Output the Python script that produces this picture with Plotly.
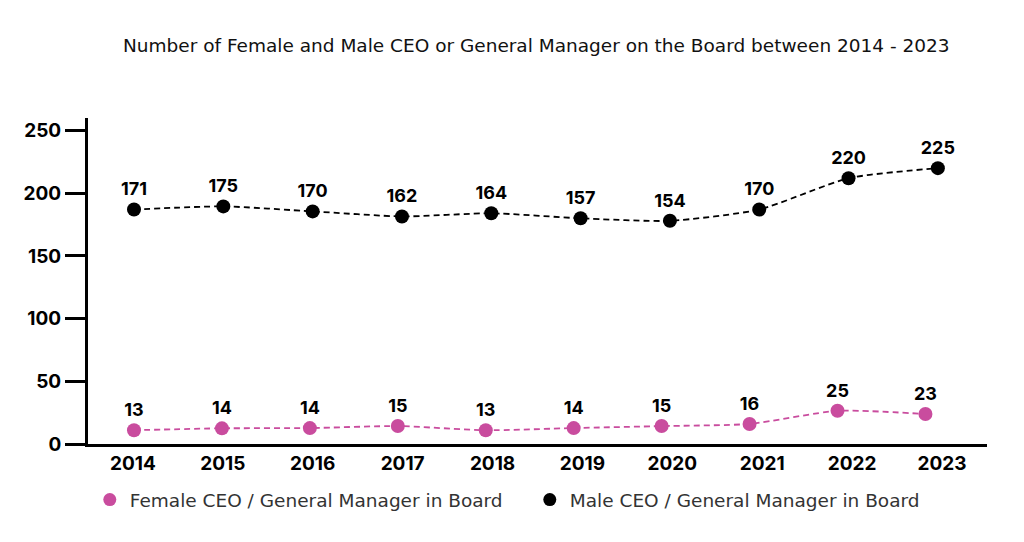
import plotly.graph_objects as go

years = [2014, 2015, 2016, 2017, 2018, 2019, 2020, 2021, 2022, 2023]

# where the dots sit on the y scale
female_pos = [11, 12.5, 12.7, 14.3, 11, 12.7, 14.3, 16, 26.5, 23.9]
male_pos = [187, 189.5, 185.5, 181.5, 184, 180, 178, 187, 212, 220]

# numbers printed above the dots
female_labels = [13, 14, 14, 15, 13, 14, 15, 16, 25, 23]
male_labels = [171, 175, 170, 162, 164, 157, 154, 170, 220, 225]

pink = "#C94C9E"
num_font = "Inter"
txt_font = "DejaVu Sans"

fig = go.Figure()

fig.add_trace(go.Scatter(
    x=years, y=male_pos, xaxis="x2",
    mode="lines+markers+text",
    line=dict(color="black", width=1.8, dash="6px,4px", shape="spline", smoothing=0.6),
    marker=dict(color="black", size=14),
    text=[str(v) for v in male_labels], textposition="top center",
    textfont=dict(family=num_font, size=18, color="black", weight="bold"),
    showlegend=False, cliponaxis=False,
))
fig.add_trace(go.Scatter(
    x=years, y=female_pos, xaxis="x3",
    mode="lines+markers+text",
    line=dict(color=pink, width=1.8, dash="6px,4px", shape="spline", smoothing=0.6),
    marker=dict(color=pink, size=14),
    text=[str(v) for v in female_labels], textposition="top center",
    textfont=dict(family=num_font, size=18, color="black", weight="bold"),
    showlegend=False, cliponaxis=False,
))

# legend entries (dot only)
fig.add_trace(go.Scatter(x=[None], y=[None], mode="markers", name="Female CEO / General Manager in Board",
                         marker=dict(color=pink, size=13)))
fig.add_trace(go.Scatter(x=[None], y=[None], mode="markers", name="Male CEO / General Manager in Board",
                         marker=dict(color="black", size=13)))

fig.update_layout(
    width=1016, height=534,
    margin=dict(l=80, r=37, t=110, b=98),
    paper_bgcolor="white", plot_bgcolor="white",
    font=dict(family=txt_font, color="black"),
    title=dict(text="Number of Female and Male CEO or General Manager on the Board between 2014 - 2023",
               x=0.52, xanchor="center", y=0.929, yanchor="middle",
               font=dict(family=txt_font, size=18.5, color="#111")),
    xaxis=dict(range=[2013.5, 2023.5], tickvals=years, ticktext=[str(y) for y in years],
               showline=True, linecolor="black", linewidth=3, showgrid=False, zeroline=False,
               ticks="", tickfont=dict(family=num_font, size=19, color="black", weight="bold")),
    xaxis2=dict(range=[2013.485, 2023.55], overlaying="x", visible=False),
    xaxis3=dict(range=[2013.477, 2023.70], overlaying="x", visible=False),
    yaxis=dict(range=[0, 260], tickvals=[0, 50, 100, 150, 200, 250],
               showline=True, linecolor="black", linewidth=3, showgrid=False, zeroline=False,
               ticks="outside", ticklen=20, tickwidth=3, tickcolor="black",
               tickfont=dict(family=num_font, size=19, color="black", weight="bold")),
    legend=dict(orientation="h", x=0.002, xanchor="left", y=-0.172, yanchor="middle",
                entrywidth=395, itemwidth=30,
                font=dict(family=txt_font, size=18.5, color="#333")),
)

fig.write_html("out.html")
